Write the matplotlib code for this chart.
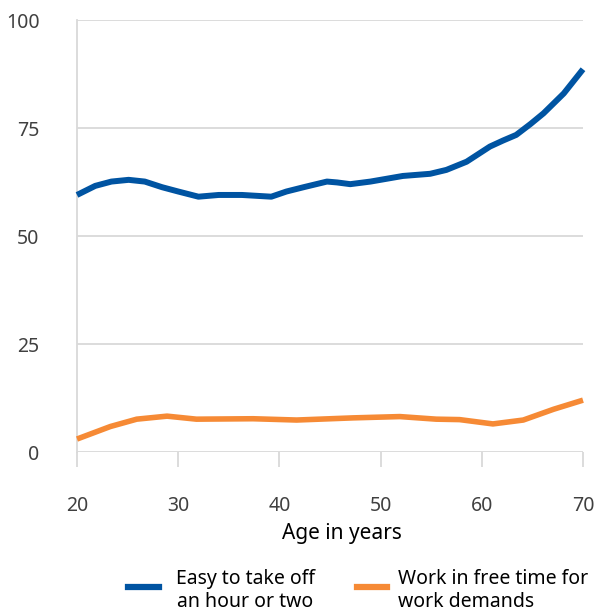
import matplotlib
matplotlib.use("Agg")
import matplotlib.pyplot as plt
from matplotlib.lines import Line2D

plt.rcParams['font.family'] = ['Noto Sans', 'DejaVu Sans']

# data
ages_easy = [20, 21.8, 23.4, 25.1, 26.7, 28.4, 30.0, 32.0, 34.0, 36.3, 39.2,
             40.7, 42.4, 44.7, 45.7, 47.0, 49.0, 52.2, 54.9, 56.5, 58.5,
             60.8, 62.1, 63.4, 64.8, 66.1, 68.1, 70]
easy_off = [59.5, 61.6, 62.6, 63.0, 62.6, 61.3, 60.3, 59.1, 59.5, 59.5, 59.1,
            60.3, 61.3, 62.6, 62.4, 62.0, 62.6, 63.9, 64.4, 65.3, 67.2,
            70.7, 72.1, 73.4, 75.9, 78.4, 83.0, 88.6]

ages_work = [20, 23.3, 25.9, 28.9, 31.8, 37.4, 41.7, 47.3, 51.9, 55.5, 57.8,
             61.1, 64.1, 67.1, 70]
work_free = [3.0, 5.9, 7.6, 8.3, 7.6, 7.7, 7.4, 7.9, 8.2, 7.6, 7.5,
             6.5, 7.4, 9.9, 12.0]

series_names = ["Easy to take off\nan hour or two", "Work in free time for\nwork demands"]
x_ticks = [20, 30, 40, 50, 60, 70]
y_ticks = [0, 25, 50, 75, 100]

blue = "#0054a2"
orange = "#f68a35"
grid_c = "#d9d9d9"
txt_c = "#404040"

W, H = 595, 612
fig = plt.figure(figsize=(W / 100, H / 100), dpi=100)
ax = fig.add_axes([77 / W, 1 - 452 / H, (583 - 77) / W, (452 - 20) / H])

ax.plot(ages_easy, easy_off, color=blue, lw=4.3, solid_joinstyle='round', solid_capstyle='butt', clip_on=False, zorder=3)
ax.plot(ages_work, work_free, color=orange, lw=4.0, solid_joinstyle='round', solid_capstyle='butt', clip_on=False, zorder=3)

ax.set_xlim(20, 70)
ax.set_ylim(0, 100)
ax.set_xticks(x_ticks)
ax.set_yticks(y_ticks)
ax.yaxis.grid(True, color=grid_c, lw=1.3)
ax.set_axisbelow(True)
for s in ['top', 'right', 'bottom']:
    ax.spines[s].set_visible(False)
ax.spines['left'].set_color(grid_c)
ax.spines['left'].set_linewidth(1.3)

ax.tick_params(axis='y', length=0, pad=27, labelsize=14, labelcolor=txt_c)
ax.tick_params(axis='x', length=11, width=1.3, color=grid_c, direction='out',
               pad=20.5, labelsize=14, labelcolor=txt_c)

fig.text(342 / W, 1 - 533 / H, "Age in years", ha='center', va='center', fontsize=15, color='black')

# legend
fig.add_artist(Line2D([128 / W, 159 / W], [1 - 587 / H] * 2, color=blue, lw=4.5))
fig.add_artist(Line2D([357 / W, 387 / W], [1 - 587 / H] * 2, color=orange, lw=4.5))
fig.text(245 / W, 1 - 569 / H, series_names[0], ha='center', va='top', multialignment='center',
         fontsize=14, color='black', linespacing=1.2)
fig.text(398 / W, 1 - 569 / H, series_names[1], ha='left', va='top',
         fontsize=14, color='black', linespacing=1.2)

fig.savefig("out.png", dpi=100)
